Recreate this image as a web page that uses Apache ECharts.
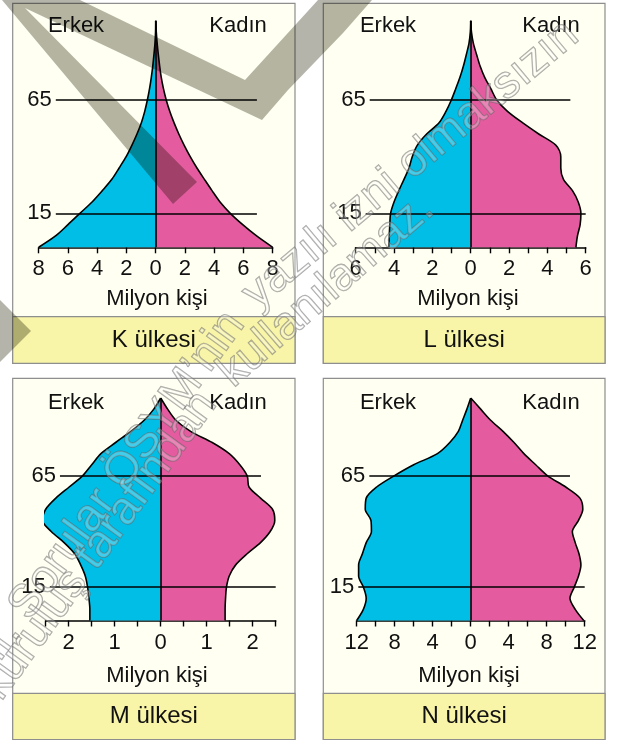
<!DOCTYPE html>
<html>
<head>
<meta charset="utf-8">
<script src="https://cdn.jsdelivr.net/npm/echarts@6/dist/echarts.min.js"></script>
<style>
html,body{margin:0;padding:0;background:#ffffff;}
#c{width:624px;height:741px;}
</style>
</head>
<body>
<div id="c"></div>
<script>
// ---------------- DATA ----------------
const ages = ['0','5','10','15','20','25','30','35','40','45','50','55','60','65','70','75','80','85','90','95','100'];

const kMale   = [8.0, 6.85, 6.0, 5.18, 4.35, 3.65, 3.0, 2.5, 2.02, 1.63, 1.28, 0.98, 0.75, 0.57, 0.42, 0.3, 0.2, 0.12, 0.05, 0.01, 0];
const kFemale = [8.0, 6.9, 5.95, 5.1, 4.4, 3.85, 3.33, 2.82, 2.36, 1.95, 1.58, 1.25, 0.96, 0.72, 0.53, 0.38, 0.27, 0.18, 0.1, 0.04, 0];
const lMale   = [4.27, 4.25, 4.22, 4.18, 4.0, 3.75, 3.48, 3.22, 3.05, 2.79, 2.3, 1.65, 1.29, 1.01, 0.78, 0.56, 0.38, 0.23, 0.09, 0.02, 0];
const lFemale = [5.49, 5.57, 5.71, 5.75, 5.61, 5.31, 4.84, 4.7, 4.7, 4.45, 3.55, 2.7, 1.92, 1.36, 1.05, 0.73, 0.49, 0.31, 0.14, 0.04, 0];
const mMale   = [1.54, 1.54, 1.56, 1.59, 1.64, 1.74, 1.87, 2.1, 2.38, 2.57, 2.5, 2.28, 1.99, 1.7, 1.5, 1.3, 0.98, 0.65, 0.36, 0.15, 0];
const mFemale = [1.4, 1.4, 1.41, 1.43, 1.49, 1.63, 1.88, 2.17, 2.38, 2.48, 2.43, 2.17, 1.92, 1.88, 1.72, 1.49, 1.12, 0.65, 0.33, 0.15, 0];
const nMale   = [12.0, 11.3, 11.0, 11.3, 11.8, 11.8, 11.4, 11.0, 10.45, 10.5, 11.1, 11.0, 9.9, 8.07, 6.0, 3.5, 2.2, 1.3, 0.85, 0.4, 0];
const nFemale = [11.9, 11.0, 10.45, 10.9, 11.35, 11.6, 11.4, 11.0, 10.7, 11.35, 11.8, 11.5, 10.0, 8.1, 6.84, 5.6, 4.56, 3.4, 2.1, 1.05, 0];

// x-axis scales (million people) and tick labels
const kScale = [-8, 8, 2];
const lScale = [-6, 6, 1];
const mScale = [-2.5, 2.5, 0.5];
const nScale = [-12, 12, 2];
const kTickLabels = ['8','6','4','2','0','2','4','6','8'];
const lTickLabels = ['6','','4','','2','','0','','2','','4','','6'];
const mTickLabels = ['','2','','1','','0','','1','','2',''];
const nTickLabels = ['12','','8','','4','','0','','4','','8','','12'];

// reference age lines: [age, left end (male side), right end (female side)]
const kRefLines = [['65', -6.83, 6.92], ['15', -6.83, 6.92]];
const lRefLines = [['65', -5.27, 5.2], ['15', -5.48, 6.0]];
const mRefLines = [['65', -2.19, 2.18], ['15', -2.41, 2.5]];
const nRefLines = [['65', -10.67, 10.45], ['15', -11.83, 12.0]];

const countryNames = ['K ülkesi', 'L ülkesi', 'M ülkesi', 'N ülkesi'];
const maleLabel = 'Erkek';
const femaleLabel = 'Kadın';
const unitLabel = 'Milyon kişi';

// ---------------- STYLE / LAYOUT ----------------
const FONT = '"Liberation Sans", Arial, Helvetica, sans-serif';
const BLUE = '#00bee6';
const PINK = '#e45c9f';
const IVORY = '#fffff2';
const YELLOW = '#f8f4a8';
const BORDER = '#8e8e8e';
const INK = '#111111';

const panels = [
  {male:kMale, female:kFemale, scale:kScale, ticks:kTickLabels, refs:kRefLines, name:countryNames[0],
   box:{x:12.7,y:3.3,w:282.3,h:360}, band:316.7,
   grid:{left:38.7, top:20.7, width:234, height:226.6},
   erkek:[76,26], kadin:[238,26], unit:[157,299]},
  {male:lMale, female:lFemale, scale:lScale, ticks:lTickLabels, refs:lRefLines, name:countryNames[1],
   box:{x:323.3,y:3.3,w:281.7,h:360}, band:316.7,
   grid:{left:355.7, top:20.7, width:230, height:226.6},
   erkek:[388,26], kadin:[551,26], unit:[468,299]},
  {male:mMale, female:mFemale, scale:mScale, ticks:mTickLabels, refs:mRefLines, name:countryNames[2],
   box:{x:12.7,y:378.3,w:282.3,h:361.2}, band:693.3,
   grid:{left:45.7, top:398, width:230, height:222.5},
   erkek:[76,403], kadin:[238,403], unit:[157,676]},
  {male:nMale, female:nFemale, scale:nScale, ticks:nTickLabels, refs:nRefLines, name:countryNames[3],
   box:{x:323.3,y:378.3,w:281.7,h:361.2}, band:693.3,
   grid:{left:356.7, top:398, width:228, height:222.5},
   erkek:[388,403], kadin:[551,403], unit:[469,676]}
];

const grids = [], xAxes = [], yAxes = [], series = [], graphics = [];

panels.forEach((p, i) => {
  grids.push(Object.assign({containLabel:false}, p.grid));
  const [mn, mx, step] = p.scale;
  xAxes.push({
    type:'value', gridIndex:i, min:mn, max:mx, interval:step,
    axisLine:{show:true, onZero:false, lineStyle:{color:'#000', width:1.6}},
    axisTick:{show:true, length:6, lineStyle:{color:'#000', width:1.4}},
    splitLine:{show:false},
    axisLabel:{show:true, margin:11, fontSize:22, color:INK, fontFamily:FONT,
      formatter:(v) => { const k = Math.round((v - mn) / step); return p.ticks[k] || ''; }}
  });
  yAxes.push({
    type:'category', gridIndex:i, data:ages, boundaryGap:false,
    axisLine:{show:false}, axisTick:{show:false}, axisLabel:{show:false}, splitLine:{show:false}
  });
  const common = {
    type:'line', xAxisIndex:i, yAxisIndex:i, symbol:'none', smooth:0.3,
    silent:true, z:2, lineStyle:{color:'#000', width:1.6}
  };
  series.push(Object.assign({}, common, {name:maleLabel, data:p.male.map(v => -v), areaStyle:{color:BLUE, opacity:1}}));
  series.push(Object.assign({}, common, {name:femaleLabel, data:p.female.slice(), areaStyle:{color:PINK, opacity:1}}));
  const ml = p.refs.map(r => [{name:r[0], coord:[r[1], r[0]]}, {coord:[r[2], r[0]]}]);
  ml.push([{name:'', coord:[0, ages[0]]}, {coord:[0, ages[ages.length-1]]}]);
  series.push({
    type:'line', xAxisIndex:i, yAxisIndex:i, data:[], silent:true, z:4,
    markLine:{
      silent:true, animation:false, symbol:['none','none'],
      lineStyle:{color:'#000', width:1.6, type:'solid'},
      label:{show:true, position:'start', distance:4, formatter:'{b}', fontSize:22, color:INK, fontFamily:FONT},
      emphasis:{disabled:true},
      data:ml
    }
  });

  // panel frame
  graphics.push({type:'rect', z:0, shape:{x:p.box.x, y:p.box.y, width:p.box.w, height:p.box.h},
    style:{fill:IVORY, stroke:BORDER, lineWidth:1.2}});
  graphics.push({type:'rect', z:1, shape:{x:p.box.x, y:p.band, width:p.box.w, height:p.box.y + p.box.h - p.band},
    style:{fill:YELLOW, stroke:BORDER, lineWidth:1.2}});
  const txt = (s, xy, size) => ({type:'text', z:10, x:xy[0], y:xy[1],
    style:{text:s, fill:INK, font:size + 'px ' + FONT, align:'center', verticalAlign:'middle'}});
  graphics.push(txt(maleLabel, p.erkek, 22));
  graphics.push(txt(femaleLabel, p.kadin, 22));
  graphics.push(txt(unitLabel, p.unit, 22));
  graphics.push(txt(p.name, [p.box.x + p.box.w / 2, (p.band + p.box.y + p.box.h) / 2], 24));
});

// watermark (decorative overlay)
const WM_GRAY = '#b4b4aa';
graphics.push({type:'polygon', z:20, shape:{points:[[2,0],[173,204],[197,182],[25,8],[262,120],[288,90],[343,33],[372,0],[318,0],[245,80],[80,0]]},
  style:{fill:WM_GRAY, blend:'multiply'}});
graphics.push({type:'polygon', z:20, shape:{points:[[0,300],[31,331],[0,362]]},
  style:{fill:WM_GRAY, blend:'multiply'}});
const wmStyle = (s, align) => ({text:s, font:'46px ' + FONT, fill:'rgba(255,255,255,0.25)',
  stroke:'rgba(95,95,95,0.55)', lineWidth:1.3, align:align, verticalAlign:'bottom'});
const deg = Math.PI / 180;
graphics.push({type:'text', z:21, x:254, y:330, rotation:54*deg, style:wmStyle('saklıdır. Sorular ÖSYM’nin', 'right')});
graphics.push({type:'text', z:21, x:264, y:318, rotation:40*deg, style:wmStyle('yazılı izni olmaksızın', 'left')});
graphics.push({type:'text', z:21, x:226, y:410, rotation:54*deg, style:wmStyle('kurum ve kuruluş tarafından', 'right')});
graphics.push({type:'text', z:21, x:240, y:396, rotation:41*deg, style:wmStyle('kullanılamaz.', 'left')});

const chart = echarts.init(document.getElementById('c'), null, {renderer:'canvas', width:624, height:741});
chart.setOption({
  animation:false,
  backgroundColor:'#ffffff',
  textStyle:{fontFamily:FONT},
  grid:grids, xAxis:xAxes, yAxis:yAxes, series:series,
  graphic:{elements:graphics}
});
</script>
</body>
</html>
